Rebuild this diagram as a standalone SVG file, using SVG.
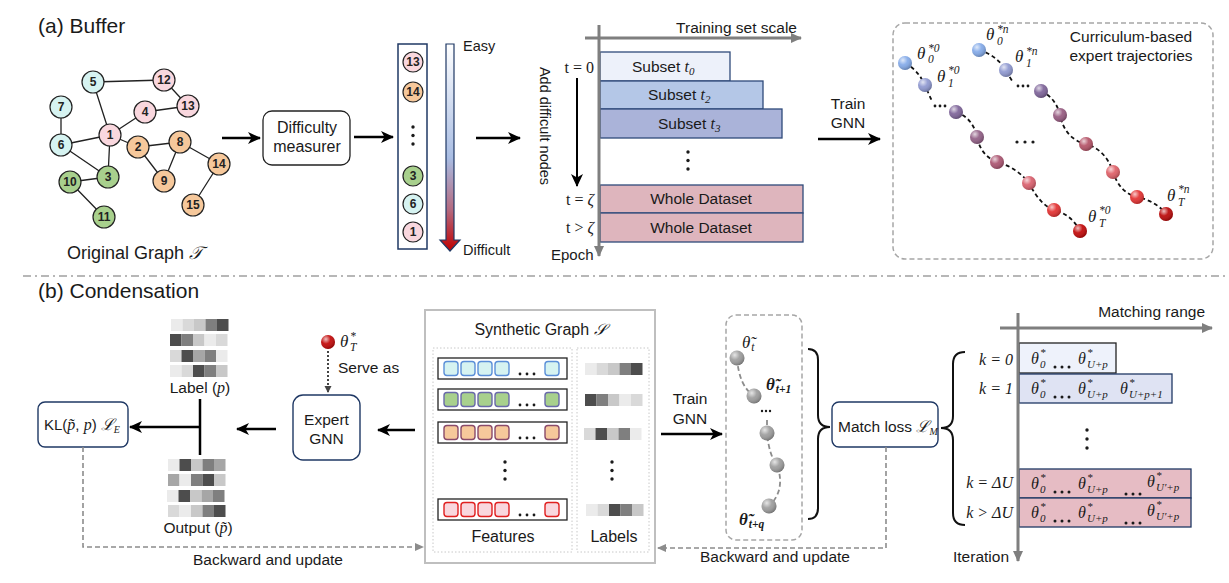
<svg xmlns="http://www.w3.org/2000/svg" width="1229" height="583" viewBox="0 0 1229 583">
<defs>
<style>
.sf{font-family:"Liberation Sans",Arial,sans-serif;fill:#1a1a1a}
.f15{font-size:15.5px}
.mi{font-family:"Liberation Serif","DejaVu Serif",serif;font-style:italic;fill:#1a1a1a}
.mr{font-family:"Liberation Serif","DejaVu Serif",serif;fill:#1a1a1a}
.edge{stroke:#222;stroke-width:1.3;fill:none}
.nd{stroke:#222;stroke-width:1.2}
.nt{font-family:"Liberation Sans",Arial,sans-serif;font-size:12px;font-weight:bold;fill:#222;text-anchor:middle}
.cy{fill:#d6f3f1}.pk{fill:#f9d7de}.or{fill:#f6c89b}.gr{fill:#a8d08d}
.arr{stroke:#000;stroke-width:2.4;fill:none;marker-end:url(#ah)}
.axis{stroke:#7f7f7f;stroke-width:3;fill:none;marker-end:url(#ag)}
.fb{stroke:#8c8c8c;stroke-width:1.6;stroke-dasharray:5 3;fill:none;marker-end:url(#af)}
.box{fill:#fff;stroke:#1f3864;stroke-width:1.4}
.bar{stroke:#2f4a7a;stroke-width:1.3}
.traj{stroke:#111;stroke-width:1.8;stroke-dasharray:4 3;fill:none}
.gtraj{stroke:#8c8c8c;stroke-width:1.8;stroke-dasharray:5 3;fill:none}
.hl{fill:url(#hl)}
.dot{fill:#1a1a1a}
.frow{fill:#fff;stroke:#222;stroke-width:1.3}
.sq{stroke-width:1.4}
.brace{stroke:#111;stroke-width:2;fill:none}
</style>
<marker id="ah" markerUnits="userSpaceOnUse" markerWidth="14" markerHeight="12" refX="12" refY="6" orient="auto"><path d="M0,0 L13,6 L0,12 L3.5,6 z" fill="#000"/></marker>
<marker id="ag" markerUnits="userSpaceOnUse" markerWidth="12" markerHeight="10" refX="10" refY="5" orient="auto"><path d="M0,0 L11,5 L0,10 z" fill="#7f7f7f"/></marker>
<marker id="af" markerUnits="userSpaceOnUse" markerWidth="10" markerHeight="8" refX="8" refY="4" orient="auto"><path d="M0,0 L9,4 L0,8 z" fill="#8c8c8c"/></marker>
<marker id="ad" markerUnits="userSpaceOnUse" markerWidth="8" markerHeight="8" refX="6" refY="3.5" orient="auto"><path d="M0,0 L7,3.5 L0,7 z" fill="#444"/></marker>
<radialGradient id="hl" cx="0.35" cy="0.3" r="0.75"><stop offset="0" stop-color="#fff" stop-opacity="0.75"/><stop offset="0.45" stop-color="#fff" stop-opacity="0.1"/><stop offset="1" stop-color="#000" stop-opacity="0.28"/></radialGradient>
<linearGradient id="gb" x1="0" y1="0" x2="0" y2="1"><stop offset="0" stop-color="#ffffff"/><stop offset="0.55" stop-color="#a9bde3"/><stop offset="0.8" stop-color="#b46a80"/><stop offset="1" stop-color="#c00000"/></linearGradient>
</defs>
<rect width="1229" height="583" fill="#fff"/>

<!-- titles -->
<text class="sf" x="38" y="33" font-size="21">(a) Buffer</text>
<text class="sf" x="38" y="298" font-size="21">(b) Condensation</text>
<line x1="23" y1="276" x2="1229" y2="276" stroke="#a0a0a0" stroke-width="1.5" stroke-dasharray="8 4 2 4"/>

<!-- original graph -->
<g id="graph-edges">
<path class="edge" d="M93,82 L164,80 M164,80 L188,106 M188,106 L145,112 M145,112 L110,135 M93,82 L110,135 M61,107 L61,145 M61,145 L110,135 M61,145 L108,177 M110,135 L108,177 M110,135 L138,147 M138,147 L180,142 M138,147 L164,181 M164,181 L180,142 M180,142 L219,164 M219,164 L193,205 M108,177 L70,182 M70,182 L104,217"/>
</g>
<g id="node-5"><circle class="nd cy" cx="93" cy="82" r="11"/><text class="nt" x="93" y="86">5</text></g>
<g id="node-12"><circle class="nd pk" cx="164" cy="80" r="11"/><text class="nt" x="164" y="84">12</text></g>
<g id="node-13"><circle class="nd pk" cx="188" cy="106" r="11"/><text class="nt" x="188" y="110">13</text></g>
<g id="node-4"><circle class="nd pk" cx="145" cy="112" r="11"/><text class="nt" x="145" y="116">4</text></g>
<g id="node-7"><circle class="nd cy" cx="61" cy="107" r="11"/><text class="nt" x="61" y="111">7</text></g>
<g id="node-1"><circle class="nd pk" cx="110" cy="135" r="11"/><text class="nt" x="110" y="139">1</text></g>
<g id="node-6"><circle class="nd cy" cx="61" cy="145" r="11"/><text class="nt" x="61" y="149">6</text></g>
<g id="node-2"><circle class="nd or" cx="138" cy="147" r="11"/><text class="nt" x="138" y="151">2</text></g>
<g id="node-8"><circle class="nd or" cx="180" cy="142" r="11"/><text class="nt" x="180" y="146">8</text></g>
<g id="node-14"><circle class="nd or" cx="219" cy="164" r="11"/><text class="nt" x="219" y="168">14</text></g>
<g id="node-3"><circle class="nd gr" cx="108" cy="177" r="11"/><text class="nt" x="108" y="181">3</text></g>
<g id="node-10"><circle class="nd gr" cx="70" cy="182" r="11"/><text class="nt" x="70" y="186">10</text></g>
<g id="node-9"><circle class="nd or" cx="164" cy="181" r="11"/><text class="nt" x="164" y="185">9</text></g>
<g id="node-15"><circle class="nd or" cx="193" cy="205" r="11"/><text class="nt" x="193" y="209">15</text></g>
<g id="node-11"><circle class="nd gr" cx="104" cy="217" r="11"/><text class="nt" x="104" y="221">11</text></g>
<text class="sf" x="67" y="259" font-size="18">Original Graph <tspan class="mi">𝒯</tspan></text>

<!-- difficulty measurer -->
<g id="difficulty-measurer">
<rect x="263" y="111" width="87" height="54" rx="9" fill="#fff" stroke="#222" stroke-width="1.3"/>
<text class="sf" x="307" y="133" font-size="16" text-anchor="middle">Difficulty</text>
<text class="sf" x="307" y="152" font-size="16" text-anchor="middle">measurer</text>
</g>

<!-- sorted list -->
<g id="sorted-list">
<rect x="398" y="44" width="29" height="205" fill="#fff" stroke="#1f3864" stroke-width="1.5"/>
<circle class="nd pk" cx="413" cy="62" r="10"/><text class="nt" x="413" y="66" font-size="11">13</text>
<circle class="nd or" cx="413" cy="92" r="10"/><text class="nt" x="413" y="96" font-size="11">14</text>
<circle class="dot" cx="413" cy="127" r="1.7"/><circle class="dot" cx="413" cy="135.5" r="1.7"/><circle class="dot" cx="413" cy="144" r="1.7"/>
<circle class="nd gr" cx="413" cy="176" r="10"/><text class="nt" x="413" y="180" font-size="11">3</text>
<circle class="nd cy" cx="413" cy="204" r="10"/><text class="nt" x="413" y="208" font-size="11">6</text>
<circle class="nd pk" cx="413" cy="232" r="10"/><text class="nt" x="413" y="236" font-size="11">1</text>
</g>
<g id="difficulty-bar">
<polygon points="446,44 454,44 454,240 460,240 450,251 440,240 446,240" fill="url(#gb)" stroke="#1f3864" stroke-width="1.2"/>
<text class="sf" x="463" y="51" font-size="14.5">Easy</text>
<text class="sf" x="463" y="255" font-size="14.5">Difficult</text>
</g>

<!-- curriculum schedule -->
<g id="schedule">
<rect class="bar" x="600" y="52" width="130" height="29" fill="#edf1fa"/>
<rect class="bar" x="600" y="81" width="163" height="28" fill="#b4c7e7"/>
<rect class="bar" x="600" y="109" width="182" height="29" fill="#aab3d9"/>
<rect class="bar" x="600" y="185" width="203" height="28" fill="#deb5bd"/>
<rect class="bar" x="600" y="213" width="203" height="29" fill="#deb5bd"/>
<text class="sf f15" x="632" y="72">Subset <tspan class="mi" font-size="16">t</tspan><tspan class="mi" font-size="11" dy="3">0</tspan></text>
<text class="sf f15" x="648" y="100">Subset <tspan class="mi" font-size="16">t</tspan><tspan class="mi" font-size="11" dy="3">2</tspan></text>
<text class="sf f15" x="658" y="129">Subset <tspan class="mi" font-size="16">t</tspan><tspan class="mi" font-size="11" dy="3">3</tspan></text>
<text class="sf f15" x="701" y="204" text-anchor="middle">Whole Dataset</text>
<text class="sf f15" x="701" y="233" text-anchor="middle">Whole Dataset</text>
<circle class="dot" cx="688" cy="152" r="1.7"/><circle class="dot" cx="688" cy="160.5" r="1.7"/><circle class="dot" cx="688" cy="169" r="1.7"/>
<text class="mr" x="594" y="73" font-size="16" text-anchor="end">t = 0</text>
<text class="mr" x="594" y="205" font-size="16" text-anchor="end">t = <tspan class="mi">ζ</tspan></text>
<text class="mr" x="594" y="233" font-size="16" text-anchor="end">t &gt; <tspan class="mi">ζ</tspan></text>
<text class="sf" font-size="14.5" text-anchor="middle" transform="translate(540,126) rotate(90)">Add difficult nodes</text>
<text class="sf" x="551" y="260" font-size="15">Epoch</text>
<text class="sf f15" x="797" y="33" text-anchor="end">Training set scale</text>
</g>

<!-- trajectories -->
<g id="expert-trajectories">
<rect x="893" y="23" width="320" height="236" rx="12" fill="none" stroke="#a6a6a6" stroke-width="1.5" stroke-dasharray="5 3"/>
<text class="sf f15" x="1131" y="42" text-anchor="middle">Curriculum-based</text>
<text class="sf f15" x="1131" y="61" text-anchor="middle">expert trajectories</text>
<path class="traj" d="M905,63 Q918,70 925,85 Q929,95 932,101"/>
<path class="traj" d="M956,112 Q973,118 977,137 Q981,156 997,162 Q1016,167 1029,183 Q1040,205 1054,210 Q1071,214 1080,231"/>
<path class="traj" d="M979,50 Q996,55 1006,70 Q1010,78 1013,82"/>
<path class="traj" d="M1041,91 Q1056,98 1060,115 Q1065,139 1086,144 Q1106,150 1113,172 Q1120,193 1137,197 Q1156,201 1166,214"/>
<circle class="dot" cx="935" cy="106" r="1.4"/><circle class="dot" cx="940" cy="106" r="1.4"/><circle class="dot" cx="945" cy="106" r="1.4"/>
<circle class="dot" cx="1018" cy="86" r="1.4"/><circle class="dot" cx="1023" cy="86" r="1.4"/><circle class="dot" cx="1028" cy="86" r="1.4"/>
<circle class="dot" cx="1017" cy="142" r="1.6"/><circle class="dot" cx="1025" cy="142" r="1.6"/><circle class="dot" cx="1033" cy="142" r="1.6"/>
<g>
<circle cx="905" cy="63" r="7" fill="#7fa7e8"/><circle class="hl" cx="905" cy="63" r="7"/>
<circle cx="925" cy="85" r="7" fill="#8b95cf"/><circle class="hl" cx="925" cy="85" r="7"/>
<circle cx="956" cy="112" r="7" fill="#7a5f96"/><circle class="hl" cx="956" cy="112" r="7"/>
<circle cx="977" cy="137" r="7" fill="#8e5a82"/><circle class="hl" cx="977" cy="137" r="7"/>
<circle cx="997" cy="162" r="7" fill="#a84f6c"/><circle class="hl" cx="997" cy="162" r="7"/>
<circle cx="1029" cy="183" r="7" fill="#d85a68"/><circle class="hl" cx="1029" cy="183" r="7"/>
<circle cx="1054" cy="210" r="7" fill="#e22a2a"/><circle class="hl" cx="1054" cy="210" r="7"/>
<circle cx="1080" cy="231" r="7" fill="#c00000"/><circle class="hl" cx="1080" cy="231" r="7"/>
<circle cx="979" cy="50" r="7" fill="#7fa7e8"/><circle class="hl" cx="979" cy="50" r="7"/>
<circle cx="1006" cy="70" r="7" fill="#8b95cf"/><circle class="hl" cx="1006" cy="70" r="7"/>
<circle cx="1041" cy="91" r="7" fill="#7a5f96"/><circle class="hl" cx="1041" cy="91" r="7"/>
<circle cx="1060" cy="115" r="7" fill="#93557c"/><circle class="hl" cx="1060" cy="115" r="7"/>
<circle cx="1086" cy="144" r="7" fill="#b24d62"/><circle class="hl" cx="1086" cy="144" r="7"/>
<circle cx="1113" cy="172" r="7" fill="#de5a62"/><circle class="hl" cx="1113" cy="172" r="7"/>
<circle cx="1137" cy="197" r="7" fill="#e22a2a"/><circle class="hl" cx="1137" cy="197" r="7"/>
<circle cx="1166" cy="214" r="7" fill="#b80000"/><circle class="hl" cx="1166" cy="214" r="7"/>
</g>
<text class="mi" x="917" y="59" font-size="17">θ</text><text class="mi" x="928" y="52" font-size="11.5">*0</text><text class="mi" x="928" y="63" font-size="11.5">0</text>
<text class="mi" x="937" y="82" font-size="17">θ</text><text class="mi" x="948" y="74" font-size="11.5">*0</text><text class="mi" x="948" y="87" font-size="11.5">1</text>
<text class="mi" x="1088" y="222" font-size="17">θ</text><text class="mi" x="1099" y="214" font-size="11.5">*0</text><text class="mi" x="1099" y="227" font-size="11.5">T</text>
<text class="mi" x="986" y="40" font-size="17">θ</text><text class="mi" x="997" y="33" font-size="11.5">*n</text><text class="mi" x="997" y="45" font-size="11.5">0</text>
<text class="mi" x="1015" y="62" font-size="17">θ</text><text class="mi" x="1026" y="55" font-size="11.5">*n</text><text class="mi" x="1026" y="67" font-size="11.5">1</text>
<text class="mi" x="1167" y="201" font-size="17">θ</text><text class="mi" x="1178" y="193" font-size="11.5">*n</text><text class="mi" x="1178" y="206" font-size="11.5">T</text>
</g>
<text class="sf f15" x="848" y="109" text-anchor="middle">Train</text>
<text class="sf f15" x="848" y="128" text-anchor="middle">GNN</text>

<!-- condensation: left -->
<g id="label-matrix">
<rect x="171" y="319" width="11.5" height="12" fill="#ebebeb"/><rect x="182.5" y="319" width="11.5" height="12" fill="#d9d9d9"/><rect x="194" y="319" width="11.5" height="12" fill="#c8c8c8"/><rect x="205.5" y="319" width="11.5" height="12" fill="#7f7f7f"/><rect x="217" y="319" width="11.5" height="12" fill="#4d4d4d"/>
<rect x="170" y="334" width="11.5" height="12" fill="#4d4d4d"/><rect x="181.5" y="334" width="11.5" height="12" fill="#7f7f7f"/><rect x="193" y="334" width="11.5" height="12" fill="#c8c8c8"/><rect x="204.5" y="334" width="11.5" height="12" fill="#ebebeb"/><rect x="216" y="334" width="11.5" height="12" fill="#d9d9d9"/>
<rect x="170" y="350" width="11.5" height="12" fill="#d9d9d9"/><rect x="181.5" y="350" width="11.5" height="12" fill="#4d4d4d"/><rect x="193" y="350" width="11.5" height="12" fill="#a6a6a6"/><rect x="204.5" y="350" width="11.5" height="12" fill="#7f7f7f"/><rect x="216" y="350" width="11.5" height="12" fill="#ebebeb"/>
<rect x="170" y="365" width="11.5" height="12" fill="#ebebeb"/><rect x="181.5" y="365" width="11.5" height="12" fill="#d9d9d9"/><rect x="193" y="365" width="11.5" height="12" fill="#4d4d4d"/><rect x="204.5" y="365" width="11.5" height="12" fill="#7f7f7f"/><rect x="216" y="365" width="11.5" height="12" fill="#c8c8c8"/>
<text class="sf f15" x="200" y="393" text-anchor="middle">Label (<tspan class="mi" font-size="16">p</tspan>)</text>
</g>
<g id="output-matrix">
<rect x="168" y="459" width="11.5" height="12" fill="#ebebeb"/><rect x="179.5" y="459" width="11.5" height="12" fill="#4d4d4d"/><rect x="191" y="459" width="11.5" height="12" fill="#c8c8c8"/><rect x="202.5" y="459" width="11.5" height="12" fill="#7f7f7f"/><rect x="214" y="459" width="11.5" height="12" fill="#a6a6a6"/>
<rect x="168" y="474" width="11.5" height="12" fill="#a6a6a6"/><rect x="179.5" y="474" width="11.5" height="12" fill="#ebebeb"/><rect x="191" y="474" width="11.5" height="12" fill="#7f7f7f"/><rect x="202.5" y="474" width="11.5" height="12" fill="#4d4d4d"/><rect x="214" y="474" width="11.5" height="12" fill="#c8c8c8"/>
<rect x="167" y="490" width="11.5" height="12" fill="#ebebeb"/><rect x="178.5" y="490" width="11.5" height="12" fill="#4d4d4d"/><rect x="190" y="490" width="11.5" height="12" fill="#c8c8c8"/><rect x="201.5" y="490" width="11.5" height="12" fill="#a6a6a6"/><rect x="213" y="490" width="11.5" height="12" fill="#7f7f7f"/>
<rect x="168" y="505" width="11.5" height="12" fill="#d9d9d9"/><rect x="179.5" y="505" width="11.5" height="12" fill="#ebebeb"/><rect x="191" y="505" width="11.5" height="12" fill="#c8c8c8"/><rect x="202.5" y="505" width="11.5" height="12" fill="#7f7f7f"/><rect x="214" y="505" width="11.5" height="12" fill="#4d4d4d"/>
<text class="sf f15" x="198" y="533" text-anchor="middle">Output (<tspan class="mi" font-size="16">p̃</tspan>)</text>
</g>
<g id="kl-loss">
<rect class="box" x="38" y="402" width="90" height="45" rx="7"/>
<text class="sf" x="44" y="430" font-size="15">KL(<tspan class="mi" font-size="16">p̃</tspan>, <tspan class="mi" font-size="16">p</tspan>) <tspan class="mi" font-size="16">ℒ</tspan><tspan class="mi" font-size="10" dy="3">E</tspan></text>
</g>
<g id="expert-gnn">
<rect class="box" x="293" y="395" width="67" height="65" rx="10"/>
<text class="sf f15" x="326.5" y="425" text-anchor="middle">Expert</text>
<text class="sf f15" x="326.5" y="444" text-anchor="middle">GNN</text>
</g>
<g id="expert-param">
<circle cx="328" cy="342" r="7" fill="#c00000"/><circle class="hl" cx="328" cy="342" r="7"/>
<text class="mi" x="340" y="347" font-size="17">θ</text><text class="mi" x="350" y="340" font-size="11.5">*</text><text class="mi" x="350" y="351" font-size="11.5">T</text>
<text class="sf f15" x="338" y="373">Serve as</text>
</g>

<!-- synthetic graph -->
<g id="synthetic-graph">
<rect x="425" y="310" width="230" height="253" fill="#fff" stroke="#bfbfbf" stroke-width="2"/>
<text class="sf" x="540" y="335" font-size="16" text-anchor="middle">Synthetic Graph <tspan class="mi">𝒮</tspan></text>
<rect x="433" y="348" width="139" height="204" fill="none" stroke="#c8c8c8" stroke-width="1" stroke-dasharray="1.5 2"/>
<rect x="577" y="348" width="72" height="204" fill="none" stroke="#c8c8c8" stroke-width="1" stroke-dasharray="1.5 2"/>
<g>
<rect class="frow" x="438" y="358" width="129" height="21"/>
<g fill="#d6f3f1" stroke="#5b8fd8" class="sq"><rect x="444" y="361.5" width="14" height="14" rx="3"/><rect x="461" y="361.5" width="14" height="14" rx="3"/><rect x="478" y="361.5" width="14" height="14" rx="3"/><rect x="495" y="361.5" width="14" height="14" rx="3"/><rect x="545" y="361.5" width="14" height="14" rx="3"/></g>
<circle class="dot" cx="520" cy="374" r="1.4"/><circle class="dot" cx="527" cy="374" r="1.4"/><circle class="dot" cx="534" cy="374" r="1.4"/>
<rect class="frow" x="438" y="389" width="129" height="21"/>
<g fill="#a8d08d" stroke="#6a6aaa" class="sq"><rect x="444" y="392.5" width="14" height="14" rx="3"/><rect x="461" y="392.5" width="14" height="14" rx="3"/><rect x="478" y="392.5" width="14" height="14" rx="3"/><rect x="495" y="392.5" width="14" height="14" rx="3"/><rect x="545" y="392.5" width="14" height="14" rx="3"/></g>
<circle class="dot" cx="520" cy="405" r="1.4"/><circle class="dot" cx="527" cy="405" r="1.4"/><circle class="dot" cx="534" cy="405" r="1.4"/>
<rect class="frow" x="438" y="422" width="129" height="21"/>
<g fill="#f6c89b" stroke="#8a4a6a" class="sq"><rect x="444" y="425.5" width="14" height="14" rx="3"/><rect x="461" y="425.5" width="14" height="14" rx="3"/><rect x="478" y="425.5" width="14" height="14" rx="3"/><rect x="495" y="425.5" width="14" height="14" rx="3"/><rect x="545" y="425.5" width="14" height="14" rx="3"/></g>
<circle class="dot" cx="520" cy="438" r="1.4"/><circle class="dot" cx="527" cy="438" r="1.4"/><circle class="dot" cx="534" cy="438" r="1.4"/>
<circle class="dot" cx="505" cy="462" r="1.7"/><circle class="dot" cx="505" cy="470.5" r="1.7"/><circle class="dot" cx="505" cy="479" r="1.7"/>
<rect class="frow" x="438" y="499" width="129" height="21"/>
<g fill="#f9d7de" stroke="#e02020" class="sq"><rect x="444" y="502.5" width="14" height="14" rx="3"/><rect x="461" y="502.5" width="14" height="14" rx="3"/><rect x="478" y="502.5" width="14" height="14" rx="3"/><rect x="495" y="502.5" width="14" height="14" rx="3"/><rect x="545" y="502.5" width="14" height="14" rx="3"/></g>
<circle class="dot" cx="520" cy="515" r="1.4"/><circle class="dot" cx="527" cy="515" r="1.4"/><circle class="dot" cx="534" cy="515" r="1.4"/>
</g>
<g>
<rect x="585" y="363" width="11.5" height="12" fill="#ebebeb"/><rect x="596.5" y="363" width="11.5" height="12" fill="#d9d9d9"/><rect x="608" y="363" width="11.5" height="12" fill="#c8c8c8"/><rect x="619.5" y="363" width="11.5" height="12" fill="#7f7f7f"/><rect x="631" y="363" width="11.5" height="12" fill="#4d4d4d"/>
<rect x="585" y="394" width="11.5" height="12" fill="#4d4d4d"/><rect x="596.5" y="394" width="11.5" height="12" fill="#7f7f7f"/><rect x="608" y="394" width="11.5" height="12" fill="#c8c8c8"/><rect x="619.5" y="394" width="11.5" height="12" fill="#ebebeb"/><rect x="631" y="394" width="11.5" height="12" fill="#d9d9d9"/>
<rect x="584" y="428" width="11.5" height="12" fill="#d9d9d9"/><rect x="595.5" y="428" width="11.5" height="12" fill="#4d4d4d"/><rect x="607" y="428" width="11.5" height="12" fill="#c8c8c8"/><rect x="618.5" y="428" width="11.5" height="12" fill="#7f7f7f"/><rect x="630" y="428" width="11.5" height="12" fill="#ebebeb"/>
<circle class="dot" cx="612" cy="462" r="1.7"/><circle class="dot" cx="612" cy="470.5" r="1.7"/><circle class="dot" cx="612" cy="479" r="1.7"/>
<rect x="586" y="504" width="11.5" height="12" fill="#ebebeb"/><rect x="597.5" y="504" width="11.5" height="12" fill="#d9d9d9"/><rect x="609" y="504" width="11.5" height="12" fill="#4d4d4d"/><rect x="620.5" y="504" width="11.5" height="12" fill="#7f7f7f"/><rect x="632" y="504" width="11.5" height="12" fill="#c8c8c8"/>
</g>
<text class="sf" x="503" y="542" font-size="16" text-anchor="middle">Features</text>
<text class="sf" x="614" y="542" font-size="16" text-anchor="middle">Labels</text>
</g>

<text class="sf f15" x="690" y="404" text-anchor="middle">Train</text>
<text class="sf f15" x="690" y="424" text-anchor="middle">GNN</text>

<!-- student trajectory -->
<g id="student-trajectory">
<rect x="726" y="315" width="76" height="225" rx="10" fill="none" stroke="#a6a6a6" stroke-width="1.5" stroke-dasharray="5 3"/>
<path class="gtraj" d="M737,358 Q739,386 754,396"/>
<path class="gtraj" d="M767,420 L767,433 Q769,455 777,465 Q786,490 769,506"/>
<circle class="dot" cx="762" cy="411" r="1.2"/><circle class="dot" cx="766" cy="411" r="1.2"/><circle class="dot" cx="770" cy="411" r="1.2"/>
<circle cx="737" cy="358" r="7.5" fill="#9a9a9a"/><circle class="hl" cx="737" cy="358" r="7.5"/>
<circle cx="754" cy="396" r="7.5" fill="#9a9a9a"/><circle class="hl" cx="754" cy="396" r="7.5"/>
<circle cx="767" cy="433" r="7.5" fill="#9a9a9a"/><circle class="hl" cx="767" cy="433" r="7.5"/>
<circle cx="777" cy="465" r="7.5" fill="#9a9a9a"/><circle class="hl" cx="777" cy="465" r="7.5"/>
<circle cx="769" cy="506" r="7.5" fill="#9a9a9a"/><circle class="hl" cx="769" cy="506" r="7.5"/>
<text class="mi" x="742" y="348" font-size="17">θ̃<tspan font-size="11.5" dx="1" dy="3">t</tspan></text>
<text class="mi" x="766" y="390" font-size="17" font-weight="bold">θ̃<tspan font-size="11.5" dx="1" dy="3">t+1</tspan></text>
<text class="mi" x="739" y="525" font-size="17" font-weight="bold">θ̃<tspan font-size="11.5" dx="1" dy="3">t+q</tspan></text>
</g>
<path class="brace" d="M808,349 Q818,349 818,360 V415 Q818,427 830,427 Q818,427 818,439 V508 Q818,519 808,519"/>
<g id="match-loss">
<rect class="box" x="832" y="402" width="106" height="45" rx="7"/>
<text class="sf" x="838" y="432" font-size="15.5">Match loss <tspan class="mi" font-size="16">ℒ</tspan><tspan class="mi" font-size="10" dy="3">M</tspan></text>
</g>
<path class="brace" d="M965,352 Q953,352 953,364 V416 Q953,428 941,428 Q953,428 953,440 V513 Q953,525 965,525"/>

<!-- matching range -->
<g id="matching-range">
<rect x="1019" y="343" width="97" height="30" fill="#eef2fb" stroke="#222" stroke-width="1.3"/>
<rect x="1019" y="374" width="153" height="29" fill="#dfe3f3" stroke="#1f3864" stroke-width="1.3"/>
<rect x="1019" y="469" width="172" height="29" fill="#e6bcc4" stroke="#1f3864" stroke-width="1.3"/>
<rect x="1019" y="498" width="172" height="29" fill="#e6bcc4" stroke="#1f3864" stroke-width="1.3"/>
<g>
<text class="mi" x="1031" y="364" font-size="16">θ</text><text class="mi" x="1040" y="356" font-size="11">*</text><text class="mi" x="1040" y="368" font-size="11">0</text>
<circle class="dot" cx="1055" cy="367" r="1.5"/><circle class="dot" cx="1062" cy="367" r="1.5"/><circle class="dot" cx="1069" cy="367" r="1.5"/>
<text class="mi" x="1078" y="364" font-size="16">θ</text><text class="mi" x="1087" y="356" font-size="11">*</text><text class="mi" x="1087" y="368" font-size="11">U+p</text>
</g>
<g>
<text class="mi" x="1031" y="394" font-size="16">θ</text><text class="mi" x="1040" y="386" font-size="11">*</text><text class="mi" x="1040" y="398" font-size="11">0</text>
<circle class="dot" cx="1055" cy="397" r="1.5"/><circle class="dot" cx="1062" cy="397" r="1.5"/><circle class="dot" cx="1069" cy="397" r="1.5"/>
<text class="mi" x="1078" y="394" font-size="16">θ</text><text class="mi" x="1087" y="386" font-size="11">*</text><text class="mi" x="1087" y="398" font-size="11">U+p</text>
<text class="mi" x="1120" y="394" font-size="16">θ</text><text class="mi" x="1129" y="386" font-size="11">*</text><text class="mi" x="1129" y="398" font-size="11">U+p+1</text>
</g>
<g>
<text class="mi" x="1031" y="489" font-size="16">θ</text><text class="mi" x="1040" y="481" font-size="11">*</text><text class="mi" x="1040" y="493" font-size="11">0</text>
<circle class="dot" cx="1055" cy="492" r="1.5"/><circle class="dot" cx="1062" cy="492" r="1.5"/><circle class="dot" cx="1069" cy="492" r="1.5"/>
<text class="mi" x="1078" y="489" font-size="16">θ</text><text class="mi" x="1087" y="481" font-size="11">*</text><text class="mi" x="1087" y="493" font-size="11">U+p</text>
<circle class="dot" cx="1126" cy="494" r="1.5"/><circle class="dot" cx="1133" cy="494" r="1.5"/><circle class="dot" cx="1140" cy="494" r="1.5"/>
<text class="mi" x="1147" y="487" font-size="16">θ</text><text class="mi" x="1156" y="479" font-size="11">*</text><text class="mi" x="1156" y="491" font-size="11">U′+p</text>
</g>
<g>
<text class="mi" x="1031" y="518" font-size="16">θ</text><text class="mi" x="1040" y="510" font-size="11">*</text><text class="mi" x="1040" y="522" font-size="11">0</text>
<circle class="dot" cx="1055" cy="521" r="1.5"/><circle class="dot" cx="1062" cy="521" r="1.5"/><circle class="dot" cx="1069" cy="521" r="1.5"/>
<text class="mi" x="1078" y="518" font-size="16">θ</text><text class="mi" x="1087" y="510" font-size="11">*</text><text class="mi" x="1087" y="522" font-size="11">U+p</text>
<circle class="dot" cx="1126" cy="523" r="1.5"/><circle class="dot" cx="1133" cy="523" r="1.5"/><circle class="dot" cx="1140" cy="523" r="1.5"/>
<text class="mi" x="1147" y="516" font-size="16">θ</text><text class="mi" x="1156" y="508" font-size="11">*</text><text class="mi" x="1156" y="520" font-size="11">U′+p</text>
</g>
<circle class="dot" cx="1087" cy="430" r="1.7"/><circle class="dot" cx="1087" cy="439" r="1.7"/><circle class="dot" cx="1087" cy="448" r="1.7"/>
<text class="mi" x="1013" y="365" font-size="16" text-anchor="end">k <tspan class="mr">= 0</tspan></text>
<text class="mi" x="1013" y="394" font-size="16" text-anchor="end">k <tspan class="mr">= 1</tspan></text>
<text class="mi" x="1013" y="488" font-size="16" text-anchor="end">k <tspan class="mr">= Δ</tspan>U</text>
<text class="mi" x="1013" y="518" font-size="16" text-anchor="end">k <tspan class="mr">&gt; Δ</tspan>U</text>
<text class="sf f15" x="1205" y="317" text-anchor="end">Matching range</text>
<text class="sf" x="953" y="562" font-size="15.5">Iteration</text>
</g>

<!-- connectors -->
<g id="connectors">
<line class="arr" x1="222" y1="138" x2="260" y2="138"/>
<line class="arr" x1="354" y1="137" x2="393" y2="137"/>
<line class="arr" x1="476" y1="138" x2="520" y2="138"/>
<line class="axis" x1="599" y1="25" x2="599" y2="256"/>
<line class="axis" x1="585" y1="38" x2="801" y2="38"/>
<line stroke="#000" stroke-width="2" marker-end="url(#ah)" x1="577" y1="78" x2="577" y2="186"/>
<line class="arr" x1="818" y1="139" x2="880" y2="139"/>
<line class="arr" x1="415" y1="430" x2="378" y2="430"/>
<line class="arr" x1="276" y1="429" x2="237" y2="429"/>
<line stroke="#000" stroke-width="2.5" x1="200" y1="399" x2="200" y2="455"/>
<line class="arr" x1="200" y1="427" x2="130" y2="427"/>
<line stroke="#444" stroke-width="2" stroke-dasharray="2 2" marker-end="url(#ad)" x1="328" y1="351" x2="328" y2="392"/>
<line class="arr" x1="661" y1="434" x2="722" y2="434"/>
<path class="fb" d="M83,447 V547 H423"/>
<path class="fb" d="M886,447 V548 H658"/>
<line class="axis" x1="1018" y1="313" x2="1018" y2="561"/>
<line class="axis" x1="1000" y1="328" x2="1212" y2="328"/>
</g>
<text class="sf f15" x="268" y="565" text-anchor="middle">Backward and update</text>
<text class="sf f15" x="775" y="562" text-anchor="middle">Backward and update</text>
</svg>
